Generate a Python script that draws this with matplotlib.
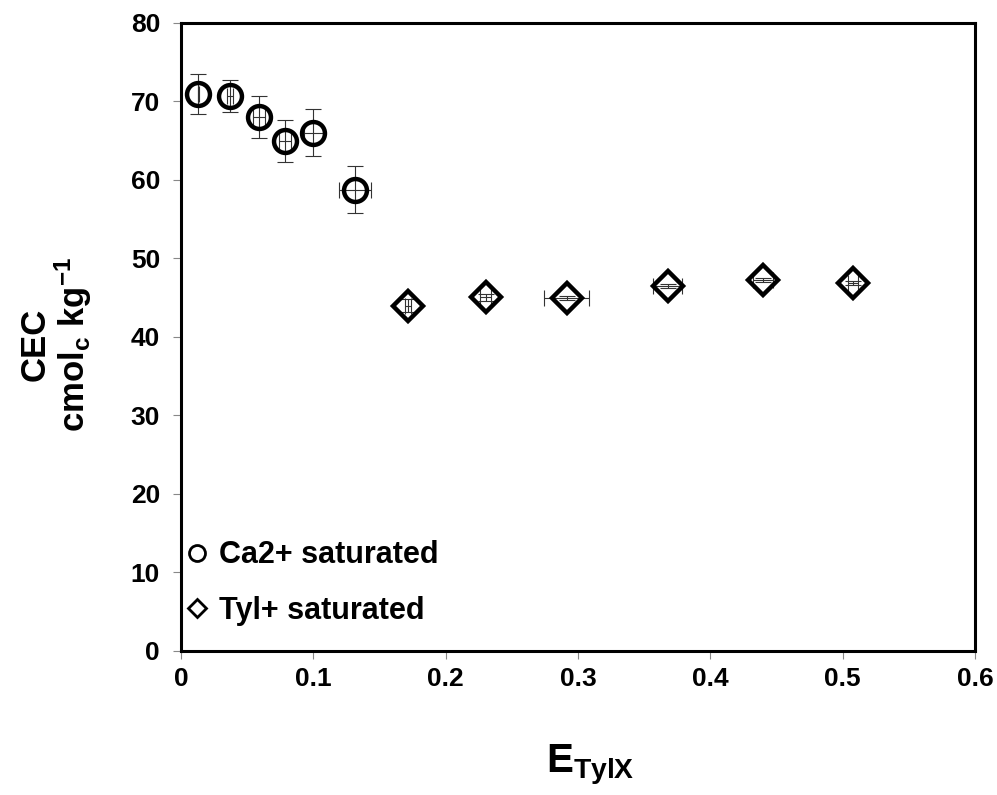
import numpy as np
import matplotlib
matplotlib.use("Agg")
import matplotlib.pyplot as plt
from matplotlib.lines import Line2D

plt.rcParams['font.family'] = ['Liberation Sans', 'DejaVu Sans']
plt.rcParams['font.weight'] = 'bold'
plt.rcParams['mathtext.fontset'] = 'custom'
plt.rcParams['mathtext.rm'] = 'Liberation Sans:bold'
plt.rcParams['mathtext.it'] = 'Liberation Sans:bold'
plt.rcParams['mathtext.bf'] = 'Liberation Sans:bold'
plt.rcParams['mathtext.default'] = 'bf'

# Ca2+ saturated samples
ca_x = [0.0131, 0.037, 0.0592, 0.0786, 0.100, 0.1315]
ca_y = [70.9, 70.65, 68.0, 64.9, 66.0, 58.7]
ca_xerr = [0.0005, 0.002, 0.0045, 0.0045, 0.0073, 0.012]
ca_yerr = [2.5, 2.0, 2.7, 2.7, 3.0, 3.0]

# Tyl+ saturated samples
tyl_x = [0.1718, 0.2303, 0.2915, 0.3679, 0.4397, 0.5077]
tyl_y = [43.95, 45.0, 44.93, 46.46, 47.22, 46.88]
tyl_xerr = [0.0023, 0.004, 0.017, 0.011, 0.0073, 0.004]
tyl_yerr = [0.85, 0.5, 0.2, 0.2, 0.3, 0.25]

fig = plt.figure(figsize=(9.97, 7.95), dpi=100)
ax = fig.add_axes([0.1815, 0.1815, 0.7965, 0.79])

# thin error bars, then hollow markers on top
err_style = dict(fmt='none', ecolor='#333333', elinewidth=0.8, capsize=5.5,
                 capthick=0.8, zorder=2)
ax.errorbar(ca_x, ca_y, xerr=ca_xerr, yerr=ca_yerr, **err_style)
ax.errorbar(tyl_x, tyl_y, xerr=tyl_xerr, yerr=tyl_yerr, **err_style)
ax.plot(ca_x, ca_y, 'o', ms=16.5, mew=3.2, mfc='none', mec='black', zorder=3)
ax.plot(tyl_x, tyl_y, 'D', ms=15, mew=3.2, mfc='none', mec='black', zorder=3)

ax.set_xlim(0, 0.6)
ax.set_ylim(0, 80)
ax.set_xticks(np.arange(0, 0.61, 0.1))
ax.set_xticklabels(['0', '0.1', '0.2', '0.3', '0.4', '0.5', '0.6'])
ax.set_yticks(np.arange(0, 81, 10))

for s in ax.spines.values():
    s.set_linewidth(2.2)
    s.set_color('black')
ax.tick_params(direction='out', length=6, width=0.8, color='#888888',
               labelsize=19)
ax.tick_params(axis='y', pad=9)
ax.tick_params(axis='x', pad=6)
for lab in ax.get_xticklabels() + ax.get_yticklabels():
    lab.set_fontweight('bold')

ax.set_xlabel(r'E$_{TylX}$', fontsize=29, fontweight='bold')
ax.xaxis.set_label_coords(0.515, -0.145)
ax.set_ylabel('CEC\n' + r'cmol$_{c}$ kg$^{-1}$', fontsize=25,
              fontweight='bold', linespacing=1.0)
ax.yaxis.set_label_coords(-0.11, 0.488)

handles = [
    Line2D([], [], ls='none', marker='o', ms=11.5, mfc='none', mec='black', mew=2),
    Line2D([], [], ls='none', marker='D', ms=9, mfc='none', mec='black', mew=2),
]
ax.legend(handles, ['Ca2+ saturated', 'Tyl+ saturated'], loc='lower left',
          bbox_to_anchor=(-0.018, 0.005), frameon=False,
          prop={'size': 22, 'weight': 'bold'},
          handlelength=0.6, handletextpad=0.4, labelspacing=0.85,
          borderaxespad=0.3)

fig.savefig('out.png', dpi=100)
